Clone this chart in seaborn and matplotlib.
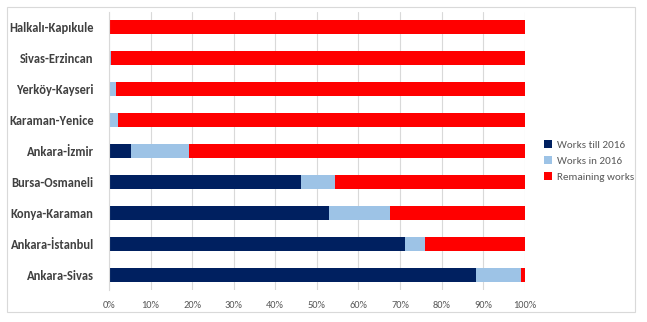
import matplotlib
matplotlib.use("Agg")
import matplotlib.pyplot as plt
import seaborn as sns
import pandas as pd
import numpy as np
from matplotlib.patches import Patch, Rectangle
from matplotlib.ticker import PercentFormatter

routes = ["Halkalı-Kapıkule", "Sivas-Erzincan", "Yerköy-Kayseri", "Karaman-Yenice",
          "Ankara-İzmir", "Bursa-Osmaneli", "Konya-Karaman", "Ankara-İstanbul", "Ankara-Sivas"]
works_till_2016 = [0.0, 0.0, 0.0, 0.0, 5.3, 46.1, 52.8, 71.1, 88.3]
works_in_2016 = [0.0, 0.4, 1.6, 2.1, 14.0, 8.2, 14.7, 4.8, 10.7]
remaining = [100 - a - b for a, b in zip(works_till_2016, works_in_2016)]
series_names = ["Works till 2016", "Works in 2016", "Remaining works"]
colors = ["#002060", "#9dc3e6", "#ff0000"]

sns.set_theme(style="white")
plt.rcParams['font.family'] = ['Carlito', 'DejaVu Sans']

df = pd.DataFrame({"route": routes, "a": works_till_2016, "b": works_in_2016, "c": remaining})
df["ab"] = df["a"] + df["b"]
df["abc"] = df["ab"] + df["c"]

fig = plt.figure(figsize=(6.47, 3.22), dpi=100)
ax = fig.add_axes([0.1685, 0.099, 0.6425, 0.864])

for col, color in zip(["abc", "ab", "a"], colors[::-1]):
    sns.barplot(data=df, x=col, y="route", color=color, order=routes, width=0.46,
                ax=ax, orient="h", saturation=1, linewidth=0)

ax.set_xlim(0, 100)
ax.set_ylim(8.5, -0.5)
ax.set_xticks(np.arange(0, 101, 10))
ax.xaxis.set_major_formatter(PercentFormatter(decimals=0))
ax.set_xlabel("")
ax.set_ylabel("")
ax.grid(axis="x", color="#d9d9d9", linewidth=0.8)
ax.set_axisbelow(True)
for s in ["top", "right", "bottom"]:
    ax.spines[s].set_visible(False)
ax.spines["left"].set_color("#d9d9d9")
ax.spines["left"].set_linewidth(0.8)
ax.tick_params(axis="y", length=0, pad=11, labelsize=9, labelcolor="#404040")
ax.tick_params(axis="x", length=0, pad=8, labelsize=7.5, labelcolor="#595959")
for t in ax.get_yticklabels():
    t.set_fontweight("bold")

handles = [Patch(facecolor=c, edgecolor="none") for c in colors]
fig.legend(handles, series_names, loc="center left", bbox_to_anchor=(0.825, 0.5),
           frameon=False, fontsize=8, labelcolor="#595959", handlelength=0.7,
           handleheight=0.7, handletextpad=0.5, labelspacing=0.55)

fig.add_artist(Rectangle((7 / 647, 10 / 322), 628 / 647, 305 / 322, transform=fig.transFigure,
                         fill=False, edgecolor="#d9d9d9", linewidth=0.8))

fig.savefig("out.png", dpi=100)
